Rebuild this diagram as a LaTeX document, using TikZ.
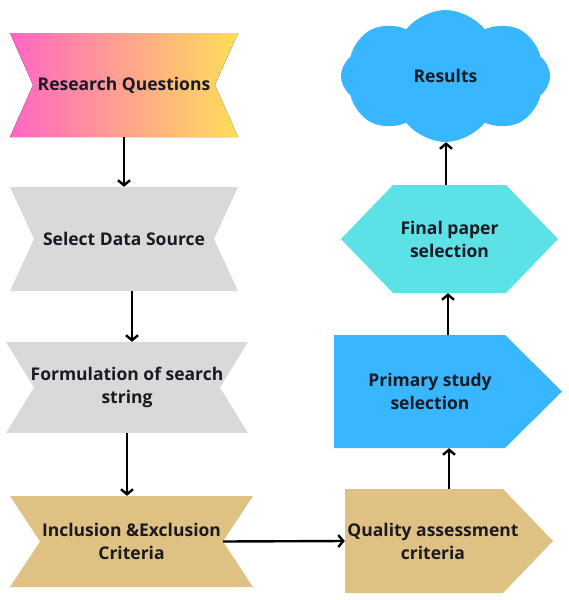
\documentclass[tikz,border=0pt]{standalone}
\usepackage{fontspec}
\setmainfont{Open Sans}
\usetikzlibrary{arrows.meta,shapes.symbols}
\definecolor{pinkA}{HTML}{FF66C4}
\definecolor{yellowA}{HTML}{FFDE59}
\definecolor{greyA}{HTML}{D9D9D9}
\definecolor{tanA}{HTML}{E0C184}
\definecolor{blueA}{HTML}{38B6FF}
\definecolor{cyanA}{HTML}{5CE1E6}
\definecolor{ink}{HTML}{1A1A24}
\tikzset{
  lbl/.style={font=\fontsize{17.5}{23}\selectfont\bfseries, text=ink, align=center},
  bowtie/.style n args={4}{lbl, inner sep=0pt, minimum width=#1, minimum height=#2,
    path picture={\fill[#4] (path picture bounding box.north west) -- (path picture bounding box.north east)
      -- ([xshift=-#3]path picture bounding box.east) -- (path picture bounding box.south east)
      -- (path picture bounding box.south west) -- ([xshift=#3]path picture bounding box.west) -- cycle;}},
  pentabox/.style n args={4}{inner sep=0pt, minimum width=#1, minimum height=#2,
    path picture={\fill[#4] (path picture bounding box.north west) -- ([xshift=-#3]path picture bounding box.north east)
      -- (path picture bounding box.east) -- ([xshift=-#3]path picture bounding box.south east)
      -- (path picture bounding box.south west) -- cycle;}},
  hexbox/.style n args={4}{lbl, inner sep=0pt, minimum width=#1, minimum height=#2,
    path picture={\fill[#4] ([xshift=#3]path picture bounding box.north west) -- ([xshift=-#3]path picture bounding box.north east)
      -- (path picture bounding box.east) -- ([xshift=-#3]path picture bounding box.south east)
      -- ([xshift=#3]path picture bounding box.south west) -- (path picture bounding box.west) -- cycle;}},
  cloudbox/.style={lbl, cloud, cloud puffs=8, cloud puff arc=105, aspect=1.5, fill=blueA, inner sep=0pt,
    minimum width=209pt, minimum height=132pt},
  arr/.style={line width=2.4pt, draw=black, -{Straight Barb[length=5pt,width=12pt]}},
}
\begin{document}
\begin{tikzpicture}[x=1pt,y=-1pt]
\useasboundingbox (0,0) rectangle (568,600);
\node[bowtie={228pt}{104pt}{23pt}{left color=pinkA,right color=yellowA}] (RQ) at (124,85) {Research Questions};
\node[bowtie={228pt}{104pt}{24pt}{greyA}] (SDS) at (124,239) {Select Data Source};
\node[bowtie={242pt}{91pt}{28pt}{greyA}] (FS) at (127,387.5) {Formulation of search\\string};
\node[bowtie={243pt}{91pt}{30pt}{tanA}] (IE) at (131.5,541.5) {Inclusion \&Exclusion\\Criteria};
\node[pentabox={208pt}{104pt}{50pt}{tanA}, label={[lbl,xshift=-16pt]center:Quality assessment\\criteria}] (QA) at (449,541) {};
\node[pentabox={228pt}{113pt}{57pt}{blueA}, label={[lbl,xshift=-18pt]center:Primary study\\selection}] (PS) at (448,391.5) {};
\node[hexbox={217pt}{108pt}{52pt}{cyanA}] (FP) at (449.5,239) {Final paper\\selection};
\node[cloudbox] (RES) at (445.5,76) {Results};

\draw[arr] (RQ.south) -- (SDS.north);
\draw[arr] ([xshift=8pt]SDS.south) -- ([xshift=8pt]SDS.south |- FS.north);
\draw[arr] (FS.south) -- (FS.south |- IE.north);
\draw[arr] ([xshift=-30pt]IE.east) -- (QA.west);
\draw[arr] (QA.north) -- (QA.north |- PS.south);
\draw[arr] (PS.north) -- (PS.north |- FP.south);
\draw[arr] ([xshift=-3.5pt]FP.north) -- ([xshift=-3.5pt]FP.north |- RES.south);
\end{tikzpicture}
\end{document}
